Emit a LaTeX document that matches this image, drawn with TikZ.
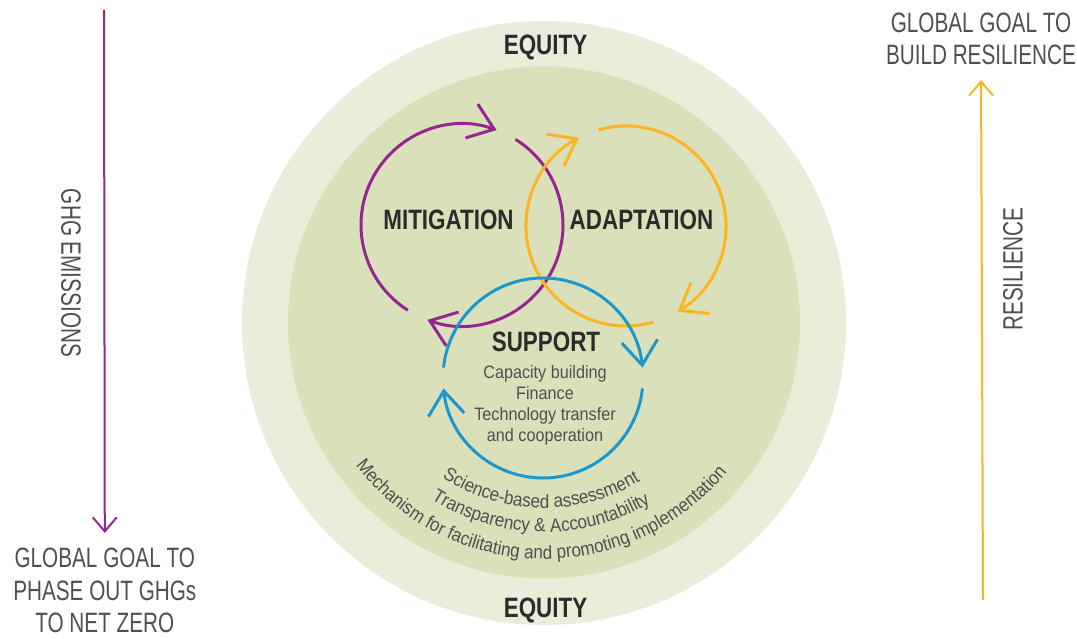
\documentclass[tikz,border=0pt]{standalone}
\usepackage{fontspec}
\setmainfont{Liberation Sans}
\newfontfamily\etroite{Liberation Sans}[FakeStretch=0.74]
\newfontfamily\grasse{Liberation Sans}[FakeStretch=0.8]
\newfontfamily\texte{Liberation Sans}[FakeStretch=0.9]
\usetikzlibrary{arrows.meta,decorations.text}
\definecolor{mitcol}{HTML}{93278F}
\definecolor{adacol}{HTML}{FBB424}
\definecolor{supcol}{HTML}{1B97CE}
\definecolor{anneau}{HTML}{E9EDD9}
\definecolor{disque}{HTML}{DAE0B9}
\definecolor{encre}{HTML}{2B2B2B}
\definecolor{gris}{HTML}{4F4F4F}
\begin{document}
\begin{tikzpicture}[x=1pt,y=1pt,
  boucle/.style={line width=3pt,-{Straight Barb[length=24pt,width=36pt]}},
  axe/.style={line width=2pt,-{Straight Barb[length=14pt,width=24pt]}},
  titre/.style={font=\grasse\bfseries\fontsize{28}{30}\selectfont,text=encre,anchor=base,inner sep=0pt},
  legende/.style={font=\etroite\fontsize{28}{32.5}\selectfont,text=gris,align=center,inner sep=0pt},
  petit/.style={font=\texte\fontsize{18}{21}\selectfont,text=gris,align=center,inner sep=0pt},
  courbe/.style={decorate,decoration={text along path,text align=center,text color=gris,
    text={|\texte\fontsize{19}{20}\selectfont|#1}}}]
\useasboundingbox (0,0) rectangle (1077,638);
% Mise en place
\coordinate (centre) at (544,315);
\fill[anneau] (centre) circle[radius=302];
\fill[disque] ([yshift=0.5pt]centre) circle[radius=256];
\node[titre] (equhaut) at (545.5,583) {EQUITY};
\node[titre] (equbas) at (545.5,21) {EQUITY};
% Mitigation
\coordinate (mit) at (462,413);
\draw[boucle,mitcol] ([shift={(237.6:101)}]mit) arc[start angle=237.6,end angle=70,radius=101];
\draw[boucle,mitcol] ([shift={(58:101)}]mit) arc[start angle=58,end angle=-110,radius=101];
% Adaptation
\coordinate (ada) at (626,412);
\draw[boucle,adacol] ([shift={(106:100)}]ada) arc[start angle=106,end angle=-59,radius=100];
\draw[boucle,adacol] ([shift={(-74:100)}]ada) arc[start angle=-74,end angle=-242,radius=100];
% Support
\coordinate (sup) at (543,260);
\draw[boucle,supcol] ([shift={(174:100)}]sup) arc[start angle=174,end angle=6,radius=100];
\draw[boucle,supcol] ([shift={(-6:100)}]sup) arc[start angle=-6,end angle=-174,radius=100];
\node[titre] (mitig) at (448.5,408) {MITIGATION};
\node[titre] (adapt) at (641.5,408) {ADAPTATION};
\node[titre] (support) at (546,286) {SUPPORT};
\node[petit] (moyens) at (545,233) {Capacity building\\Finance\\Technology transfer\\and cooperation};
% Textes courbes
\path[courbe={Science-based assessment}] ([shift={(190:185)}]centre) arc[start angle=190,end angle=348,radius=185];
\path[courbe={Transparency {\&} Accountability}] ([shift={(190:209)}]centre) arc[start angle=190,end angle=348,radius=209];
\path[courbe={Mechanism for facilitating and promoting implementation}] ([shift={(190:236)}]centre) arc[start angle=190,end angle=348,radius=236];
% Axes lateraux
\node[legende] (phaseout) at (104.8,47.5) {GLOBAL GOAL TO\\PHASE OUT GHGs\\TO NET ZERO};
\coordinate (ghghaut) at (104,628);
\draw[axe,mitcol,shorten >=15pt] (ghghaut) -- (phaseout.north);
\node[legende,rotate=-90] (ghg) at (71,365) {GHG EMISSIONS};
\node[legende] (batir) at (981,599.2) {GLOBAL GOAL TO\\BUILD RESILIENCE};
\coordinate (resbas) at (983,38);
\draw[axe,adacol,shorten >=15pt] (resbas) -- (batir.south);
\node[legende,rotate=90] (resil) at (1013,369) {RESILIENCE};
\end{tikzpicture}
\end{document}
